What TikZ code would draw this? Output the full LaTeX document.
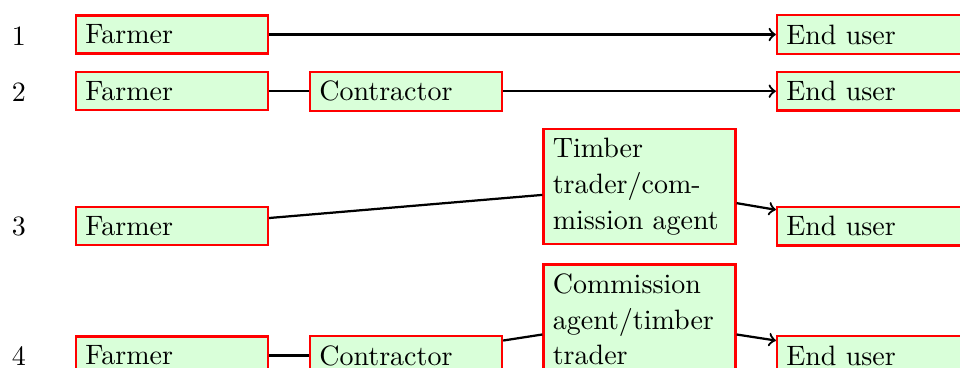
\documentclass[tikz,border=0pt]{standalone}
\begin{document}
\begin{tikzpicture}[x=0.357pt, y=-0.357pt]
  \tikzset{
    stage/.style={draw=red, fill=green!15, line width=0.8pt,
      text width=61.9pt, align=left, inner sep=3.33pt,
      font=\fontsize{10}{12.7}\selectfont},
    rowno/.style={anchor=base, inner sep=0pt, font=\fontsize{10}{12.7}\selectfont},
    link/.style={line width=0.8pt},
    flow/.style={link, ->},
  }
  \useasboundingbox (0,0) rectangle (960,367);

  % row labels
  \node[rowno] (n1) at (19,45) {1};
  \node[rowno] (n2) at (19,101.7) {2};
  \node[rowno] (n3) at (19,235.7) {3};
  \node[rowno] (n4) at (19,365) {4};

  % chain 1
  \node[stage] (f1) at (172,34.5) {Farmer};
  \node[stage] (e1) at (873,34.5) {End user};

  % chain 2
  \node[stage] (f2) at (172,91.2) {Farmer};
  \node[stage] (c2) at (406,91.2) {Contractor};
  \node[stage] (e2) at (873,91.2) {End user};

  % chain 3
  \node[stage] (f3) at (172,226.2) {Farmer};
  \node[stage] (t3) at (639.5,186.7) {Timber\\trader/com-\\mission agent};
  \node[stage] (e3) at (873,226.2) {End user};

  % chain 4
  \node[stage] (f4) at (172,355.5) {Farmer};
  \node[stage] (c4) at (406,355.5) {Contractor};
  \node[stage] (t4) at (639.5,319.5) {Commission\\agent/timber\\trader};
  \node[stage] (e4) at (873,355.5) {End user};

  % connectors
  \draw[flow] (f1) -- (e1);
  \draw[link] (f2) -- (c2);
  \draw[flow] (c2) -- (e2);
  \draw[link] (f3) -- (t3);
  \draw[flow] (t3) -- (e3);
  \draw[link] (f4) -- (c4);
  \draw[link] (c4) -- (t4);
  \draw[flow] (t4) -- (e4);
\end{tikzpicture}
\end{document}
